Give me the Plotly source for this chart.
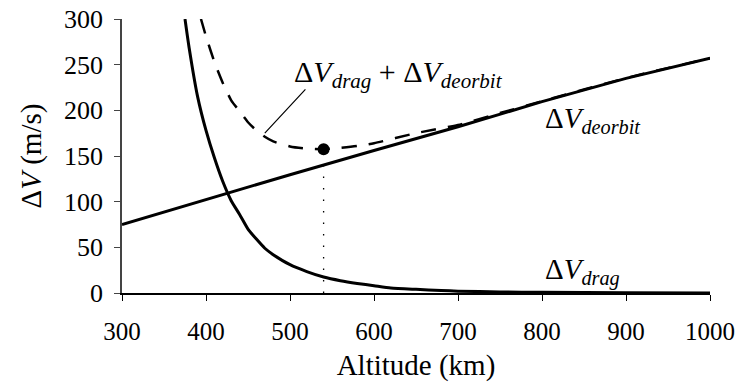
import plotly.graph_objects as go

# ---- data ----
altitude_deorbit = [300, 400, 500, 600, 700, 800, 900, 1000]
dv_deorbit = [75, 102.5, 129.5, 156, 182, 209.5, 235, 257]

altitude_drag = [375, 380, 390, 400, 410, 420, 430, 440, 450, 460, 470, 480, 500, 520, 540,
                 560, 580, 600, 620, 650, 680, 700, 750, 800, 900, 1000]
dv_drag = [300, 268, 215, 178, 148, 122, 101, 86, 70, 59, 49, 42, 31, 23.5, 17.5,
           13.5, 10.5, 8, 5.5, 4, 2.8, 2, 1.2, 0.7, 0.3, 0.1]

altitude_total = [394, 400, 410, 420, 430, 440, 450, 460, 470, 480, 500, 520, 540, 560, 580,
                  600, 650, 700, 750, 800, 900, 1000]
dv_total = [300, 281, 253, 230, 211, 199, 187, 178, 171, 166, 160.5, 158, 157.5, 159, 161,
            164, 175, 184, 197, 210, 235.3, 257.1]

optimum_altitude = 540
optimum_dv = 157.5

x_ticks = [300, 400, 500, 600, 700, 800, 900, 1000]
y_ticks = [0, 50, 100, 150, 200, 250, 300]

FONT = "Liberation Serif, Tinos, Times New Roman, DejaVu Serif, serif"

fig = go.Figure()

fig.add_trace(go.Scatter(x=[optimum_altitude, optimum_altitude], y=[0, optimum_dv],
                         mode="lines", line=dict(color="black", width=1.3, dash="1.5px,10px"),
                         hoverinfo="skip"))
fig.add_trace(go.Scatter(x=altitude_deorbit, y=dv_deorbit, mode="lines",
                         line=dict(color="black", width=3)))
fig.add_trace(go.Scatter(x=altitude_drag, y=dv_drag, mode="lines",
                         line=dict(color="black", width=3, shape="spline", smoothing=0.6)))
fig.add_trace(go.Scatter(x=altitude_total, y=dv_total, mode="lines",
                         line=dict(color="black", width=2.5, dash="15px,12px",
                                   shape="spline", smoothing=0.6)))
fig.add_trace(go.Scatter(x=[optimum_altitude], y=[optimum_dv], mode="markers",
                         marker=dict(color="black", size=12)))

fig.add_annotation(x=502, y=240, xref="x", yref="y", xanchor="left", yanchor="middle",
                   text="Δ<i>V</i><sub><i>drag</i></sub> + Δ<i>V</i><sub><i>deorbit</i></sub>",
                   showarrow=False, font=dict(family=FONT, size=30, color="black"))
fig.add_annotation(x=470, y=175, ax=520, ay=224.5, xref="x", yref="y", axref="x", ayref="y",
                   text="", showarrow=True, arrowhead=0, arrowwidth=1.2, arrowcolor="black")
fig.add_annotation(x=801, y=189, xref="x", yref="y", xanchor="left", yanchor="middle",
                   text="Δ<i>V</i><sub><i>deorbit</i></sub>", showarrow=False,
                   font=dict(family=FONT, size=29, color="black"))
fig.add_annotation(x=801, y=24, xref="x", yref="y", xanchor="left", yanchor="middle",
                   text="Δ<i>V</i><sub><i>drag</i></sub>", showarrow=False,
                   font=dict(family=FONT, size=29, color="black"))

fig.update_layout(
    width=735, height=382,
    margin=dict(l=122, r=25, t=19, b=89, autoexpand=False),
    paper_bgcolor="white", plot_bgcolor="white",
    showlegend=False,
    font=dict(family=FONT, color="black"),
)
fig.update_xaxes(range=[300, 1000], tickvals=x_ticks, ticks="outside", ticklen=6,
                 tickcolor="black", showline=True, linecolor="black", linewidth=1.5,
                 showgrid=False, zeroline=False, tickfont=dict(family=FONT, size=25),
                 ticklabeloverflow="allow", automargin=False, ticklabelstandoff=9,
                 title=dict(text="Altitude (km)", font=dict(family=FONT, size=29), standoff=22))
fig.update_yaxes(range=[0, 300], tickvals=y_ticks, ticks="outside", ticklen=6,
                 tickcolor="#444", showline=True, linecolor="#444", linewidth=1.5,
                 showgrid=False, zeroline=False, tickfont=dict(family=FONT, size=26),
                 ticklabelstandoff=6, automargin=False,
                 title=dict(text="Δ<i>V</i> (m/s)", font=dict(family=FONT, size=29), standoff=14))

fig.write_html("out.html")
